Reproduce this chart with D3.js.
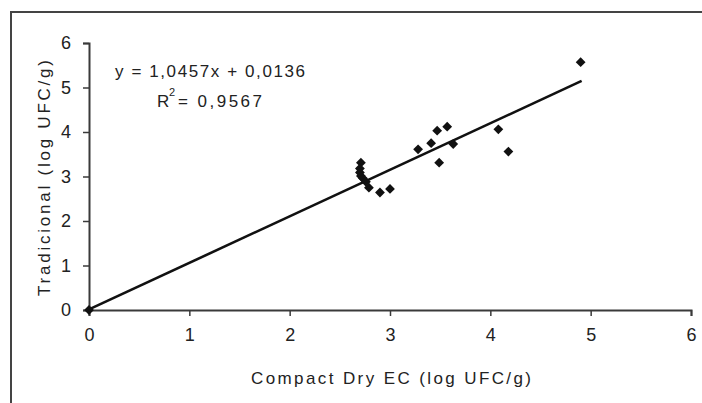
<!DOCTYPE html>
<html>
<head>
<meta charset="utf-8">
<script src="https://cdn.jsdelivr.net/npm/d3@7"></script>
<style>
  body { margin: 0; background: #fff; }
  svg { display: block; }
  text { font-family: "Liberation Sans", Arial, sans-serif; fill: #222; }
</style>
</head>
<body>
<svg id="chart" width="702" height="403"></svg>
<script>
'use strict';

// values
const compactDry = [0, 2.71, 2.70, 2.70, 2.71, 2.73, 2.76, 2.79, 2.90, 3.00, 3.28, 3.41, 3.47, 3.57, 3.49, 3.63, 4.08, 4.18, 4.90];
const tradicional = [0, 3.31, 3.18, 3.09, 3.01, 2.96, 2.88, 2.75, 2.64, 2.72, 3.61, 3.75, 4.03, 4.12, 3.31, 3.73, 4.06, 3.56, 5.57];
const xTicks = [0, 1, 2, 3, 4, 5, 6];
const yTicks = [0, 1, 2, 3, 4, 5, 6];
const slope = 1.0457;
const intercept = 0.0136;
const fitRange = [0, 4.91];

const svg = d3.select('#chart');
const axisColour = '#3a3a3a';

const x = d3.scaleLinear().domain([0, 6]).range([89, 691]);
const y = d3.scaleLinear().domain([0, 6]).range([310, 43]);

// outer frame
svg.append('rect')
    .attr('x', 11).attr('y', 12)
    .attr('width', 702).attr('height', 403)
    .attr('fill', 'none')
    .attr('stroke', '#444')
    .attr('stroke-width', 2);

const xAxis = svg.append('g')
    .attr('transform', `translate(0,${y(0)})`)
    .call(d3.axisBottom(x).tickValues(xTicks).tickSize(6).tickPadding(12).tickFormat(d3.format('d')));

const yAxis = svg.append('g')
    .attr('transform', `translate(${x(0)},0)`)
    .call(d3.axisLeft(y).tickValues(yTicks).tickSize(6).tickPadding(12).tickFormat(d3.format('d')));

[xAxis, yAxis].forEach(g => {
    g.select('.domain').attr('stroke', axisColour).attr('stroke-width', 2);
    g.selectAll('.tick line').attr('stroke', axisColour).attr('stroke-width', 1.5);
    g.selectAll('.tick text')
        .attr('font-size', 18)
        .attr('font-family', '"Liberation Sans", Arial, sans-serif')
        .attr('fill', '#333');
});

// regression line
svg.append('line')
    .attr('x1', x(fitRange[0])).attr('y1', y(slope * fitRange[0] + intercept))
    .attr('x2', x(fitRange[1])).attr('y2', y(slope * fitRange[1] + intercept))
    .attr('stroke', '#111')
    .attr('stroke-width', 2.6);

// diamond markers
const diamond = d3.symbol().type(d3.symbolSquare).size(48);
svg.append('g')
    .selectAll('path')
    .data(compactDry.map((v, i) => [v, tradicional[i]]))
    .enter()
    .append('path')
    .attr('d', diamond)
    .attr('transform', d => `translate(${x(d[0])},${y(d[1])}) rotate(45)`)
    .attr('fill', '#111');

// equation
svg.append('text')
    .attr('x', 115).attr('y', 77)
    .attr('font-size', 17)
    .attr('textLength', 190)
    .text('y = 1,0457x + 0,0136');

svg.append('text')
    .attr('x', 157).attr('y', 107)
    .attr('font-size', 17)
    .text('R');
svg.append('text')
    .attr('x', 169).attr('y', 96)
    .attr('font-size', 11)
    .text('2');
svg.append('text')
    .attr('x', 178).attr('y', 107)
    .attr('font-size', 17)
    .attr('textLength', 84)
    .text('= 0,9567');

// axis titles
svg.append('text')
    .attr('x', 391).attr('y', 384)
    .attr('text-anchor', 'middle')
    .attr('font-size', 17)
    .attr('textLength', 280)
    .text('Compact Dry EC (log UFC/g)');

svg.append('text')
    .attr('transform', 'translate(50,178) rotate(-90)')
    .attr('text-anchor', 'middle')
    .attr('font-size', 17)
    .attr('textLength', 236)
    .text('Tradicional (log UFC/g)');
</script>
</body>
</html>
